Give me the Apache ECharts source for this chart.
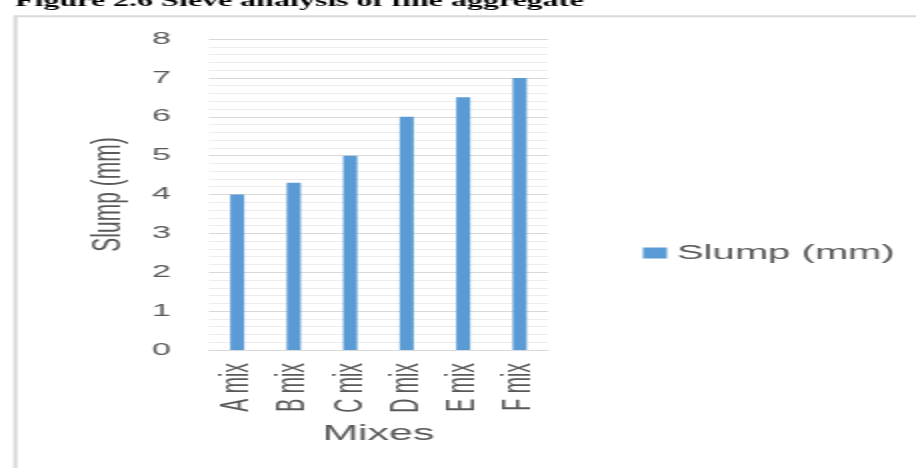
<!DOCTYPE html>
<html>
<head>
<meta charset="utf-8">
<script src="https://cdn.jsdelivr.net/npm/echarts@6/dist/echarts.min.js"></script>
<style>
html,body{margin:0;padding:0;background:#fff;overflow:hidden;width:916px;height:468px;}
#c{width:458px;height:468px;transform:scaleX(2);transform-origin:0 0;}
</style>
</head>
<body>
<div id="c"></div>
<script>
const titleText = 'Figure 2.6 Sieve analysis of fine aggregate';
const categories = ['A mix', 'B mix', 'C mix', 'D mix', 'E mix', 'F mix'];
const seriesName = 'Slump (mm)';
const slumpValues = [4, 4.3, 5, 6, 6.5, 7];
const yAxisTitle = 'Slump (mm)';
const xAxisTitle = 'Mixes';
const yMin = 0, yMax = 8, yInterval = 1;

const chart = echarts.init(document.getElementById('c'), null, {renderer: 'canvas'});
const FONT = "'Liberation Sans', Arial, sans-serif";
chart.setOption({
  animation: false,
  backgroundColor: '#ffffff',
  graphic: [
    {type: 'rect', left: 5.2, top: 13.8, silent: true,
     shape: {x: 0, y: 0, width: 1000, height: 1000},
     style: {fill: 'none', stroke: '#d9d9d9', lineWidth: 2}},
    {type: 'text', x: 7.5, y: 9.5, silent: true,
     style: {text: titleText, fill: '#000', font: "bold 16px 'Liberation Serif', 'Times New Roman', serif",
             verticalAlign: 'bottom', align: 'left'}}
  ],
  grid: {left: 104.5, right: 184, top: 39, bottom: 118, containLabel: false},
  legend: {
    data: [seriesName], left: 316.5, top: 238, orient: 'vertical',
    itemWidth: 12, itemHeight: 11, icon: 'rect',
    textStyle: {color: '#595959', fontSize: 20, fontFamily: FONT}
  },
  xAxis: {
    type: 'category', data: categories,
    name: xAxisTitle, nameLocation: 'middle', nameGap: 73,
    nameTextStyle: {color: '#595959', fontSize: 21.5, fontFamily: FONT},
    axisLine: {lineStyle: {color: '#d9d9d9', width: 1}},
    axisTick: {show: false},
    axisLabel: {rotate: 90, margin: 13, color: '#595959', fontSize: 19.5, fontFamily: FONT}
  },
  yAxis: {
    type: 'value', min: yMin, max: yMax, interval: yInterval,
    name: yAxisTitle, nameLocation: 'middle', nameGap: 40,
    nameTextStyle: {color: '#595959', fontSize: 21, fontFamily: FONT},
    axisLine: {show: false}, axisTick: {show: false},
    axisLabel: {margin: 19, color: '#595959', fontSize: 17, fontFamily: FONT},
    splitLine: {lineStyle: {color: '#d9d9d9', width: 1}},
    minorTick: {show: false, splitNumber: 5},
    minorSplitLine: {show: true, lineStyle: {color: '#ececec', width: 1}}
  },
  series: [{
    name: seriesName, type: 'bar', data: slumpValues, barWidth: 7,
    itemStyle: {color: '#5b9bd5'}
  }]
});
</script>
</body>
</html>
